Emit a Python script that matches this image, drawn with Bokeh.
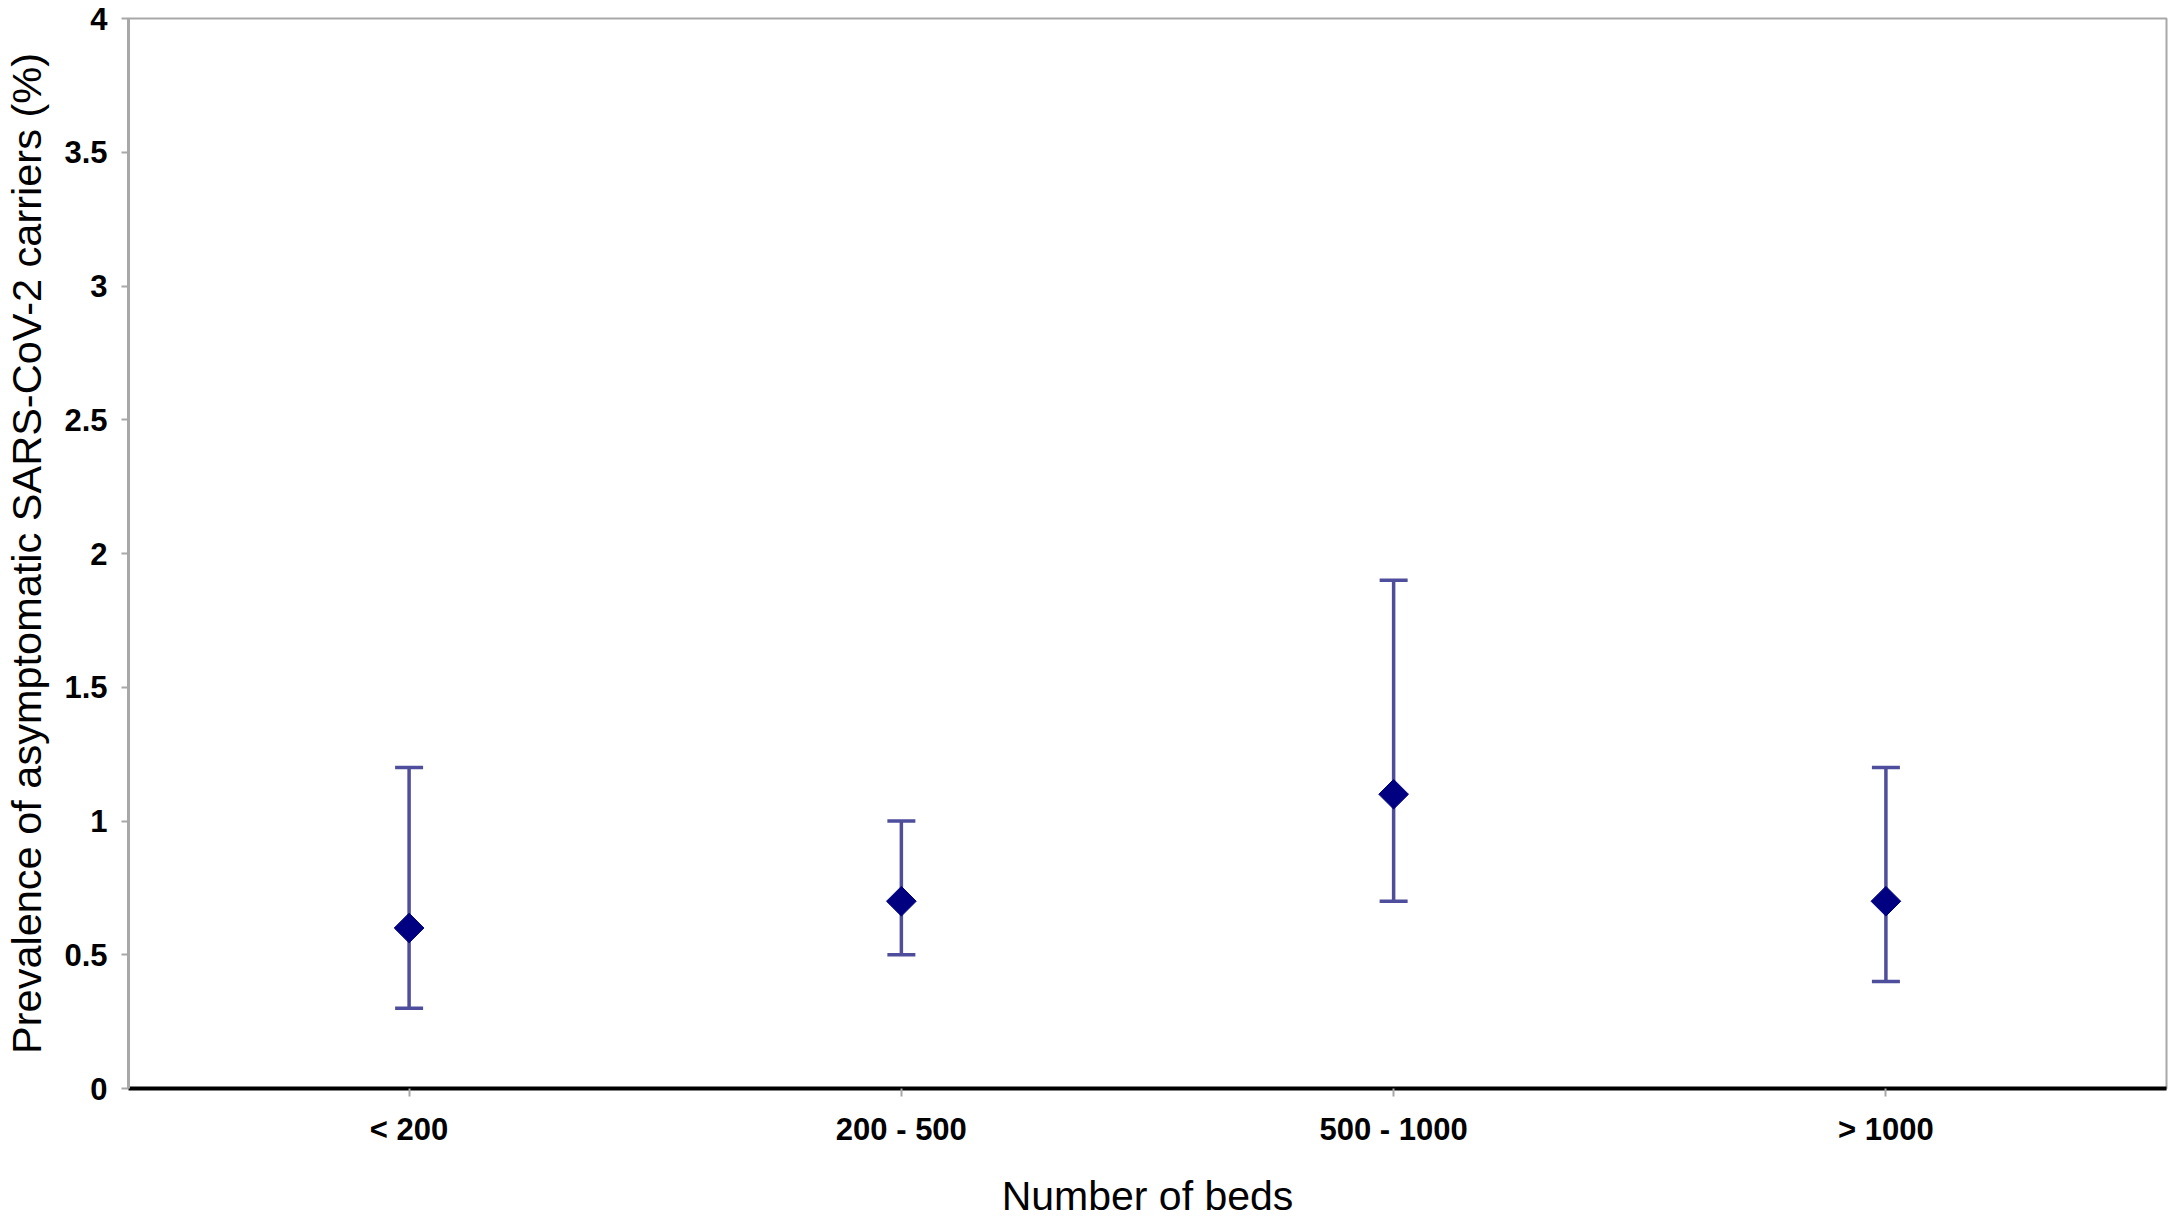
from bokeh.plotting import figure
from bokeh.models import FactorRange, Range1d, Whisker, TeeHead, ColumnDataSource, FixedTicker, NumeralTickFormatter
from bokeh.embed import file_html
from bokeh.resources import INLINE
import numpy as np

categories = ["< 200", "200 - 500", "500 - 1000", "> 1000"]
prevalence = [0.6, 0.7, 1.1, 0.7]
lower = [0.3, 0.5, 0.7, 0.4]
upper = [1.2, 1.0, 1.9, 1.2]
y_ticks = [0, 0.5, 1, 1.5, 2, 2.5, 3, 3.5, 4]

src = ColumnDataSource(dict(cat=categories, val=prevalence, lo=lower, hi=upper))

p = figure(
    width=2175, height=1221,
    x_range=FactorRange(factors=categories, range_padding=0.07, range_padding_units="absolute"),
    y_range=Range1d(0, 4),
    output_backend="svg", toolbar_location=None,
    min_border_left=120, min_border_right=9, min_border_top=18, min_border_bottom=130,
)
p.background_fill_color = "white"
p.border_fill_color = "white"
p.outline_line_color = "#a8a8a8"
p.outline_line_width = 2
p.xgrid.visible = False
p.ygrid.visible = False

err_color = "#4e4e9c"
w = Whisker(source=src, base="cat", lower="lo", upper="hi", dimension="height",
            line_color=err_color, line_width=3.5,
            upper_head=TeeHead(size=28, line_color=err_color, line_width=3.5),
            lower_head=TeeHead(size=28, line_color=err_color, line_width=3.5))
p.add_layout(w)

p.scatter(x="cat", y="val", source=src, marker="square", angle=np.pi / 4, size=21,
          fill_color="#000080", line_color="#000080")

font = "Liberation Sans"
# y axis
ya = p.yaxis[0]
ya.ticker = FixedTicker(ticks=y_ticks)
ya.formatter = NumeralTickFormatter(format="0.[0]")
ya.minor_tick_line_color = None
ya.major_tick_in = 0
ya.major_tick_out = 7
ya.major_tick_line_color = "#a8a8a8"
ya.major_tick_line_width = 2
ya.axis_line_color = "#a8a8a8"
ya.axis_line_width = 3
ya.major_label_text_font = font
ya.major_label_text_font_size = "31px"
ya.major_label_text_font_style = "bold"
ya.major_label_text_color = "black"
ya.major_label_standoff = 14
ya.axis_label = "Prevalence of asymptomatic SARS-CoV-2 carriers (%)"
ya.axis_label_text_font = font
ya.axis_label_text_font_size = "41.5px"
ya.axis_label_text_font_style = "normal"
ya.axis_label_text_color = "black"
ya.axis_label_standoff = 11

# x axis
xa = p.xaxis[0]
xa.axis_line_color = "black"
xa.axis_line_width = 4
xa.major_tick_in = 0
xa.major_tick_out = 8
xa.major_tick_line_color = "#a8a8a8"
xa.major_tick_line_width = 2
xa.minor_tick_line_color = None
xa.major_label_text_font = font
xa.major_label_text_font_size = "31px"
xa.major_label_text_font_style = "bold"
xa.major_label_text_color = "black"
xa.major_label_standoff = 15
xa.axis_label = "Number of beds"
xa.axis_label_text_font = font
xa.axis_label_text_font_size = "41px"
xa.axis_label_text_font_style = "normal"
xa.axis_label_text_color = "black"
xa.axis_label_standoff = 23

open("out.html", "w").write(file_html(p, INLINE))
